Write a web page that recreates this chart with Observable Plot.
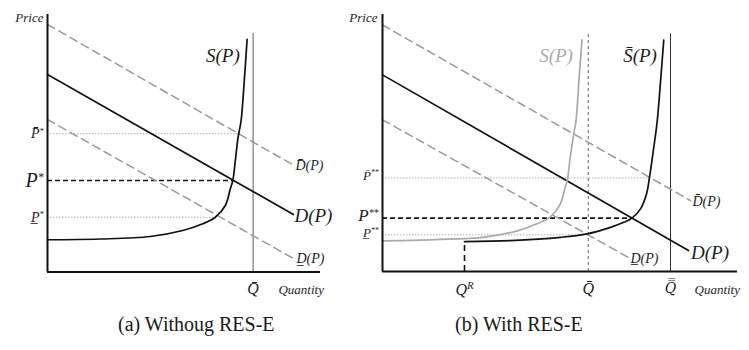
<!DOCTYPE html>
<html>
<head>
<meta charset="utf-8">
<script src="https://cdn.jsdelivr.net/npm/d3@7"></script>
<script src="https://cdn.jsdelivr.net/npm/@observablehq/plot@0.6"></script>
<style>
  html, body { margin: 0; padding: 0; background: #fff; }
  #wrap { position: relative; width: 749px; height: 350px; overflow: hidden; }
  #pa { position: absolute; left: 0; top: 0; }
  #pb { position: absolute; left: 340px; top: 0; }
  .cap { position: absolute; top: 313px; font-family: "Liberation Serif", "Times New Roman", serif; font-size: 20px; color: #1a1a1a; white-space: nowrap; }
</style>
</head>
<body>
<div id="wrap">
  <div id="pa"></div>
  <div id="pb"></div>
  <div class="cap" id="capA" style="left:118px">(a) Withoug RES-E</div>
  <div class="cap" id="capB" style="left:455px">(b) With RES-E</div>
</div>
<script>
// ---------- data (abstract price / quantity units) ----------
const demandNames = ["D̄(P)", "D(P)", "D̲(P)"];
// panel (a)
const demandStartPA = [99, 79, 61];
const demandEndQA = [97.8, 98.2, 98.2];
const demandEndPA = [43, 23, 5.4];
const supplyQA = [0, 21, 41, 54, 62, 67, 71, 73, 74, 75, 76.1, 77.3, 78.6, 79.7];
const supplyPA = [12.9, 13.2, 14.2, 16.6, 19.3, 21.9, 26.6, 33.3, 36.6, 44.6, 53.9, 60.6, 77, 93.1];
const qBarA = 82.1;
const pricesA = [55.3, 36.6, 21.9];            // P̄*, P*, P̲*
const priceEndQA = [77, 73.9, 67];
const priceLabelsA = ["P̄^*", "P^*", "P̲^*"];

// panel (b)
const demandStartPB = [98.8, 78.8, 60.8];
const demandEndQB = [123.2, 122.4, 98.4];
const demandEndPB = [28.4, 8.4, 5.6];
const supplyQB = [0, 21, 41, 54, 62, 67, 71, 73, 74, 75, 76.3, 77.4, 78.6, 79.8];
const supplyPB = [12.3, 12.8, 13.8, 16.3, 19.2, 21.8, 26.8, 33.5, 37, 45, 54, 60.4, 77, 92.8];
const supplyBarQB = [32.8, 51.2, 71.2, 81.9, 91.2, 96.5, 99.9, 103.2, 105.6, 106.8, 108.5, 109.9, 111.2, 112.5];
const supplyBarPB = [12, 12.4, 13.7, 15.1, 17.7, 19.7, 21.5, 25.1, 31.1, 37.7, 49.7, 60.4, 76, 92.7];
const qRB = 32.8;
const qBarB = 82.3;
const qBarBarB = 115.2;
const pricesB = [37.5, 21.4, 14.7];            // P̄**, P**, P̲**
const priceEndQB = [106.4, 99.9, 82];
const priceLabelsB = ["P̄^**", "P^**", "P̲^**"];

// ---------- helpers ----------
const FONT = "Liberation Serif, DejaVu Serif, serif";
const dashGray = {stroke: "#9a9a9a", strokeWidth: 1.5, strokeDasharray: "8,5"};
const dotGray = {stroke: "#a8a8a8", strokeWidth: 0.9, strokeDasharray: "1.5,1.5"};
const ink = "#1e1e1e";

function demandRows(startP, endQ, endP) {
  return demandNames.flatMap((n, i) => [
    {name: n, q: 0, p: startP[i]},
    {name: n, q: endQ[i], p: endP[i]}
  ]);
}
function curve(qs, ps) { return qs.map((q, i) => ({q, p: ps[i]})); }

// superscripts ("^") as tspans of the same text
function supers(svg) {
  const ns = "http://www.w3.org/2000/svg";
  svg.querySelectorAll("text").forEach(t => {
    const s = t.textContent;
    if (!s.includes("^")) return;
    const [b, sp] = s.split("^");
    t.textContent = "";
    const a = document.createElementNS(ns, "tspan"); a.textContent = b;
    const c = document.createElementNS(ns, "tspan"); c.textContent = sp;
    c.setAttribute("font-size", b === "Q" ? "0.68em" : "0.58em"); c.setAttribute("dy", "-0.55em");
    t.appendChild(a); t.appendChild(c);
  });
  return svg;
}

// ---------- panel (a) ----------
const dA = demandRows(demandStartPA, demandEndQA, demandEndPA);
const hA = pricesA.map((p, i) => ({p, q2: priceEndQA[i], label: priceLabelsA[i], size: i === 1 ? 20 : 14}));
const endLabelsA = [
  {q: 99, p: 42.6, t: "D̄(P)", s: 14},
  {q: 98.6, p: 22.6, t: "D(P)", s: 19},
  {q: 99.4, p: 5.2, t: "D̲(P)", s: 14}
];

const plotA = Plot.plot({
  width: 340, height: 300,
  marginLeft: 47, marginRight: 20, marginTop: 14, marginBottom: 28.5,
  x: {domain: [0, 109], axis: null},
  y: {domain: [0, 103], axis: null},
  style: {fontFamily: FONT, background: "transparent"},
  marks: [
    Plot.ruleX([qBarA], {y1: 0, y2: 95.4, stroke: "#777", strokeWidth: 1.2}),
    Plot.ruleY(hA.filter((d, i) => i !== 1), {y: "p", x1: 0, x2: "q2", ...dotGray}),
    Plot.ruleY([hA[1]], {y: "p", x1: 0, x2: "q2", stroke: "#111", strokeWidth: 1.6, strokeDasharray: "5,3"}),
    Plot.line(dA.filter(d => d.name !== "D(P)"), {x: "q", y: "p", z: "name", ...dashGray}),
    Plot.line(dA.filter(d => d.name === "D(P)"), {x: "q", y: "p", stroke: "#111", strokeWidth: 1.7}),
    Plot.line(curve(supplyQA, supplyPA), {x: "q", y: "p", curve: "catmull-rom", stroke: "#111", strokeWidth: 1.7}),
    Plot.ruleX([0], {y1: 0, y2: 103, stroke: "#111", strokeWidth: 2}),
    Plot.ruleY([0], {x1: 0, x2: 109, stroke: "#111", strokeWidth: 2}),
    Plot.text(hA, {x: 0, y: "p", text: "label", fontSize: "size", dx: -4, textAnchor: "end", fontStyle: "italic", fill: ink}),
    Plot.text(endLabelsA, {x: "q", y: "p", text: "t", fontSize: "s", textAnchor: "start", fontStyle: "italic", fill: ink}),
    Plot.text(["S(P)"], {x: 70, y: 86.4, fontSize: 19, fontStyle: "italic", fill: ink}),
    Plot.text(["Price"], {x: 0, y: 101.8, dx: -4, textAnchor: "end", fontSize: 13, fontStyle: "italic", fill: ink}),
    Plot.text(["Q̄"], {x: qBarA, y: -6.8, fontSize: 16, fontStyle: "italic", fill: ink}),
    Plot.text(["Quantity"], {x: 92.2, y: -7.2, textAnchor: "start", fontSize: 13, fontStyle: "italic", fill: ink, letterSpacing: 1.6})
  ]
});
document.getElementById("pa").appendChild(supers(plotA));

// ---------- panel (b) ----------
const dB = demandRows(demandStartPB, demandEndQB, demandEndPB);
const hB = pricesB.map((p, i) => ({p, q2: priceEndQB[i], label: priceLabelsB[i], size: i === 1 ? 17 : 13, ly: i === 2 ? p + 0.6 : p + 1.0}));
const endLabelsB = [
  {q: 124, p: 28.2, t: "D̄(P)", s: 14},
  {q: 123.4, p: 7.6, t: "D(P)", s: 19},
  {q: 99.2, p: 5.4, t: "D̲(P)", s: 14}
];
const axisLabelsB = [
  {q: qRB, p: -7.4, t: "Q^R"},
  {q: qBarB, p: -6.8, t: "Q̄"}
];

const plotB = Plot.plot({
  width: 409, height: 300,
  marginLeft: 42, marginRight: 12, marginTop: 14, marginBottom: 29,
  x: {domain: [0, 142], axis: null},
  y: {domain: [0, 103], axis: null},
  style: {fontFamily: FONT, background: "transparent"},
  marks: [
    Plot.ruleX([qBarB], {y1: 0, y2: 95.2, stroke: "#555", strokeWidth: 0.9, strokeDasharray: "3,3"}),
    Plot.ruleX([qBarBarB], {y1: 0, y2: 95.2, stroke: "#333", strokeWidth: 1}),
    Plot.ruleX([qRB], {y1: 0, y2: supplyBarPB[0], stroke: "#111", strokeWidth: 1.6, strokeDasharray: "6,4"}),
    Plot.ruleY(hB.filter((d, i) => i !== 1), {y: "p", x1: 0, x2: "q2", ...dotGray}),
    Plot.ruleY([hB[1]], {y: "p", x1: 0, x2: "q2", stroke: "#111", strokeWidth: 1.6, strokeDasharray: "5,3"}),
    Plot.line(dB.filter(d => d.name !== "D(P)"), {x: "q", y: "p", z: "name", ...dashGray}),
    Plot.line(dB.filter(d => d.name === "D(P)"), {x: "q", y: "p", stroke: "#111", strokeWidth: 1.7}),
    Plot.line(curve(supplyQB, supplyPB), {x: "q", y: "p", curve: "catmull-rom", stroke: "#aaa", strokeWidth: 1.7}),
    Plot.line(curve(supplyBarQB, supplyBarPB), {x: "q", y: "p", curve: "catmull-rom", stroke: "#111", strokeWidth: 1.7}),
    Plot.ruleX([0], {y1: 0, y2: 103, stroke: "#111", strokeWidth: 2}),
    Plot.ruleY([0], {x1: 0, x2: 142, stroke: "#111", strokeWidth: 2}),
    Plot.text(hB, {x: 0, y: "ly", text: "label", fontSize: "size", dx: -4, textAnchor: "end", fontStyle: "italic", fill: ink}),
    Plot.text(endLabelsB, {x: "q", y: "p", text: "t", fontSize: "s", textAnchor: "start", fontStyle: "italic", fill: ink}),
    Plot.text(["S(P)"], {x: 69.4, y: 86.4, fontSize: 19, fontStyle: "italic", fill: "#aaa"}),
    Plot.text(["S̄(P)"], {x: 103, y: 86.4, fontSize: 19, fontStyle: "italic", fill: ink}),
    Plot.text(axisLabelsB, {x: "q", y: "p", text: "t", fontSize: 16, fontStyle: "italic", fill: ink}),
    Plot.text(["Q̿"], {x: qBarBarB, y: -6.8, fontSize: 14, fontStyle: "italic", fontFamily: "DejaVu Serif", fill: ink}),
    Plot.text(["Price"], {x: 0, y: 101.6, dx: -5, textAnchor: "end", fontSize: 13, fontStyle: "italic", fill: ink}),
    Plot.text(["Quantity"], {x: 124.8, y: -7.2, textAnchor: "start", fontSize: 13, fontStyle: "italic", fill: ink, letterSpacing: 1.6})
  ]
});
document.getElementById("pb").appendChild(supers(plotB));
</script>
</body>
</html>
